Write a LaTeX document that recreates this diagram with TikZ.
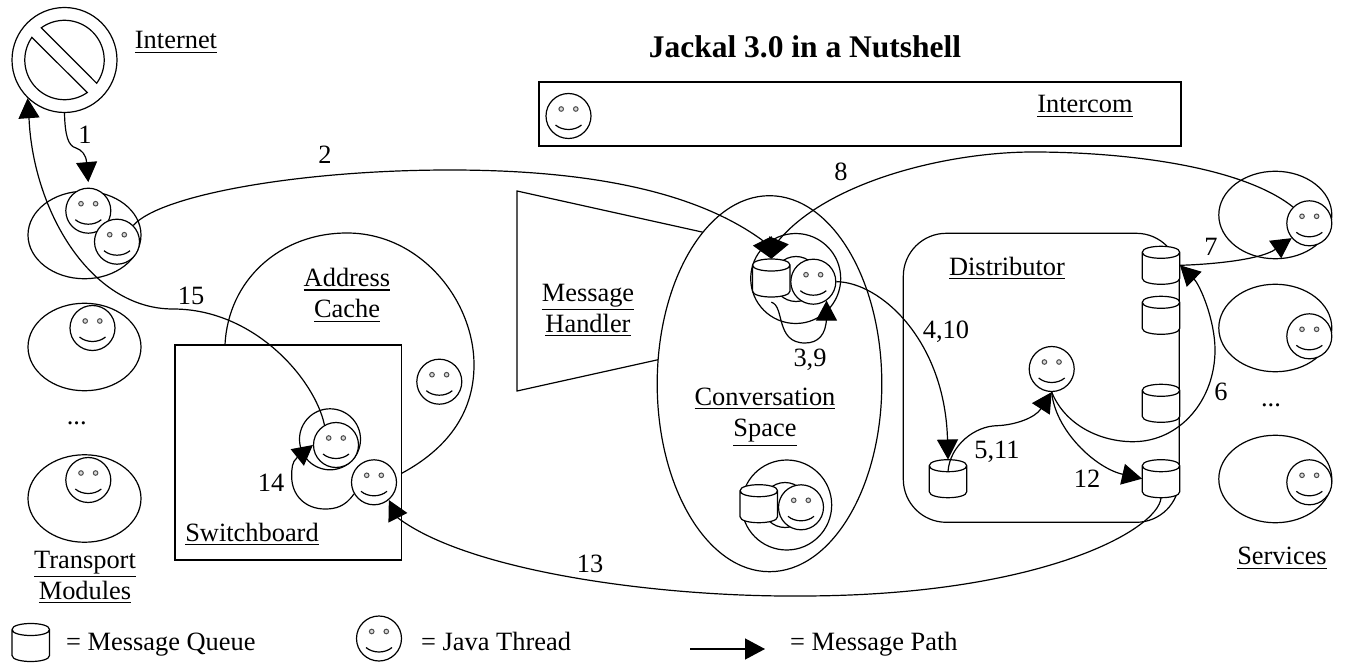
\documentclass[tikz,border=0pt]{standalone}
\usepackage{fontspec}
\setmainfont{Liberation Serif}
\usetikzlibrary{arrows.meta,shapes.geometric}
\newcommand\ulabel[1]{\leavevmode\vtop{\hbox{#1}\kern 2.6pt\hrule height 1.1pt}}
\tikzset{
  base line/.style={line width=1.2pt,black},
  thread/.style={circle,draw,base line,fill=white,inner sep=0pt,minimum size=45pt,
    path picture={
      \draw[shift={(path picture bounding box.center)},line width=1pt,draw=black!70,fill=black!15]
        (-7.3,-7) circle[radius=2.3] (7.3,-7) circle[radius=2.3];
      \draw[shift={(path picture bounding box.center)},base line]
        (-13,9) .. controls (-6,15) and (6,15) .. (13,9);
    }},
  queuebox/.style={rectangle,inner sep=0pt,minimum width=37.5pt,minimum height=38pt},
  bubble/.style={circle,draw,base line,fill=white,inner sep=0pt},
  module/.style={ellipse,draw,base line,fill=white,inner sep=0pt,minimum width=113pt,minimum height=87.5pt},
  lbl/.style={inner sep=0pt,align=center,font=\fontsize{26.4}{31.2}\selectfont},
  link/.style={base line,-{Triangle[length=20pt,width=21pt]}},
  shapeline/.style={base line}
}
\newcommand\queuenode[3]{%
  \node[queuebox] (#1) at (#2,#3) {};
  \draw[base line,fill=white,shift={(#1.center)}]
    (-18.75,-13) -- (-18.75,13) .. controls (-18.75,21) and (18.75,21) .. (18.75,13) -- (18.75,-13)
    .. controls (18.75,-21) and (-18.75,-21) .. (-18.75,-13)
    .. controls (-18.75,-5) and (18.75,-5) .. (18.75,-13);
}
\begin{document}
\begin{tikzpicture}[x=1pt,y=-1pt]
\useasboundingbox (0,0) rectangle (1346,668);
\fill[white] (0,0) rectangle (1346,668);

% Internet
\node[bubble,minimum size=105pt] (inet) at (64.5,60) {};
\draw[shapeline] plot[smooth,domain=-125.7:35.9,samples=40] ({64.5+39.7*cos(\x)},{60+39.7*sin(\x)}) -- cycle;
\draw[shapeline] plot[smooth,domain=55:214.7,samples=40] ({64.5+39.7*cos(\x)},{60+39.7*sin(\x)}) -- cycle;
\node[lbl] (linet) at (176,42) {\ulabel{Internet}};

% Title and Intercom
\node[lbl,font=\bfseries\fontsize{31.5}{36}\selectfont] (title) at (805,47) {Jackal 3.0 in a Nutshell};
\node[draw,base line,minimum width=642pt,minimum height=64pt,inner sep=0pt] (intercom) at (860,114) {};
\node[thread] (tic) at (568.5,116) {};
\node[lbl] (lic) at (1085,106) {\ulabel{Intercom}};

% Transport modules
\node[module] (m1) at (84.5,235) {};
\node[module] (m2) at (84.5,347) {};
\node[module] (m3) at (84.5,498.5) {};
\node[thread] (t1) at (88.3,210.7) {};
\node[thread] (t2) at (117,241.7) {};
\node[thread] (t4) at (92.5,328) {};
\node[thread] (t5) at (88.3,480) {};
\node[lbl] (dotsl) at (76.7,423) {...};
\node[lbl] (ltm) at (85,577) {\ulabel{Transport}\\\ulabel{Modules}};

% Address cache and switchboard
\coordinate (acs) at (225,345);
\coordinate (ace) at (401.7,473.3);
\draw[shapeline] (acs) .. controls (228,280) and (280,233) .. (347,233)
  .. controls (420,233) and (474,300) .. (474,365)
  .. controls (474,415) and (445,450) .. (ace);
\node[draw,base line,minimum width=226.7pt,minimum height=215pt,inner sep=0pt] (sw) at (288.3,452.5) {};
\node[lbl] (lac) at (347,295) {\ulabel{Address}\\\ulabel{Cache}};
\node[lbl] (lsw) at (252,534) {\ulabel{Switchboard}};
\node[bubble,minimum size=61pt] (b3) at (330,439.3) {};
\node[thread] (t6) at (336,445) {};
\node[thread] (t3) at (374,482.3) {};
\node[thread] (t7) at (439.3,381.7) {};

% Message handler and conversation space
\draw[shapeline] (517,191) -- (720,236) -- (720,346) -- (517,391) -- cycle;
\node[ellipse,draw,base line,fill=white,inner sep=0pt,minimum width=224.6pt,minimum height=376pt] (conv) at (769.5,383.7) {};
\node[lbl] (lmh) at (588,310) {\ulabel{Message}\\\ulabel{Handler}};
\node[lbl] (lcs) at (765,417) {\ulabel{Conversation}\\\ulabel{Space}};
\node[bubble,minimum size=90pt] (cb1) at (795.7,278.5) {};
\node[bubble,minimum size=45pt] (cb1i) at (796,279) {};
\queuenode{cq1}{771.3}{278}
\node[thread] (ct1) at (813.3,281.7) {};
\node[bubble,minimum size=90pt] (cb2) at (786.7,505) {};
\node[bubble,minimum size=45pt] (cb2i) at (785,505) {};
\queuenode{cq2}{758.8}{503.7}
\node[thread] (ct2) at (801,507.3) {};

% Distributor
\node[draw,base line,rounded corners=43pt,minimum width=276pt,minimum height=289pt,inner sep=0pt] (dist) at (1041.3,377.8) {};
\node[lbl] (ldi) at (1007,268) {\ulabel{Distributor}};
\queuenode{q1}{1161}{265.3}
\queuenode{q2}{1161}{315.3}
\queuenode{q3}{1161}{403.3}
\queuenode{q4}{1161}{478.7}
\queuenode{q5}{948}{478.7}
\node[thread] (dt) at (1051.7,369) {};

% Services
\node[module] (s1) at (1275.3,215) {};
\node[module] (s2) at (1275.3,328) {};
\node[module] (s3) at (1275.3,479) {};
\node[thread] (st1) at (1309.3,223.3) {};
\node[thread] (st2) at (1309.3,336.3) {};
\node[thread] (st3) at (1309.3,482.3) {};
\node[lbl] (dotsr) at (1271,405) {...};
\node[lbl] (lse) at (1282,558) {\ulabel{Services}};

% Message paths
\draw[link] (inet.south) .. controls (65,135) and (68,146) .. (76,148)
  .. controls (82,150) and (86,155) .. ([yshift=5.5pt]t1.north);
\draw[link] (t2.north east) .. controls (160,195) and (300,170) .. (450,170)
  .. controls (600,170) and (700,195) .. (762,240) -- (cq1.north);
\draw[link] (st1.north west) .. controls (1240,165) and (1120,152) .. (1033,152)
  .. controls (950,152) and (830,180) .. (779,240) -- (cq1.north);
\draw[link] ([yshift=-5pt]cq1.south) .. controls (785,306) and (775,343) .. (805,343)
  .. controls (818,343) and (826,335) .. (826.5,318) -- (ct1.-55);
\draw[link] (ct1.east) .. controls (880,282) and (945,340) .. (q5.north);
\draw[link] ([yshift=-12pt]q5.north) .. controls (950,445) and (975,426) .. (997,425.7)
  .. controls (1015,425) and (1035,418) .. (dt.south);
\draw[link] (dt.south) .. controls (1065,425) and (1100,441.7) .. (1133,441.7)
  .. controls (1180,441.7) and (1215,400) .. (1215,350)
  .. controls (1215,320) and (1200,285) .. (q1.east);
\draw[link] (q1.east) .. controls (1210,264.5) and (1260,260) .. (st1.-140);
\draw[link] (dt.south) .. controls (1055,430) and (1095,468) .. (q4.west);
\draw[link] (q4.south) .. controls (1158,530) and (1040,596) .. (800,596)
  .. controls (660,597) and (470,572) .. (398,518) -- (t3.-50);
\draw[link] (t3.-150) .. controls (345,507) and (335,509) .. (325,509)
  .. controls (305,509) and (291.7,495) .. (291.7,476.7)
  .. controls (291.7,468) and (292,462) .. (297,457.7) -- (t6.west);
\draw[link] (t6.120) .. controls (315,380) and (255,309) .. (173,309)
  .. controls (90,309) and (33,210) .. (29,118) -- (inet.226);

% Path numbers
\node[lbl] (n1) at (85,135) {1};
\node[lbl] (n2) at (325,155) {2};
\node[lbl] (n15) at (191,296) {15};
\node[lbl] (n8) at (841,172) {8};
\node[lbl] (n39) at (810,360) {3,9};
\node[lbl] (n410) at (946,332) {4,10};
\node[lbl] (n511) at (997,452) {5,11};
\node[lbl] (n12) at (1087,479) {12};
\node[lbl] (n6) at (1221,392) {6};
\node[lbl] (n7) at (1211,247) {7};
\node[lbl] (n13) at (590,564) {13};
\node[lbl] (n14) at (271,483) {14};

% Legend
\queuenode{lq}{30.8}{642.5}
\node[lbl,anchor=base west] (ltq) at (66,650) {= Message Queue};
\node[thread] (lt) at (379,638.5) {};
\node[lbl,anchor=base west] (ltt) at (421,650) {= Java Thread};
\coordinate (las) at (690,649);
\coordinate (lae) at (765,649);
\draw[link] (las) -- (lae);
\node[lbl,anchor=base west] (ltp) at (790,650) {= Message Path};
\end{tikzpicture}
\end{document}
